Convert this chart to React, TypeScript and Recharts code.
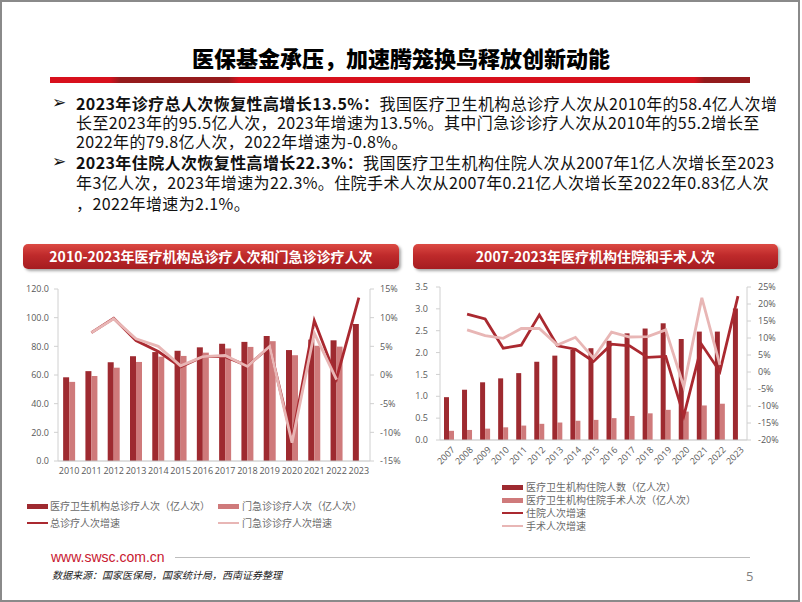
import React from 'react';
import { ComposedChart, Bar, Line, XAxis, YAxis } from 'recharts';

// ---------- Left chart data ----------
const years1 = ['2010', '2011', '2012', '2013', '2014', '2015', '2016', '2017', '2018', '2019', '2020', '2021', '2022', '2023'];
const totalVisits = [58.4, 62.7, 68.9, 73.1, 76.0, 76.9, 79.3, 81.8, 83.1, 87.2, 77.4, 84.7, 84.2, 95.5];
const outpatientVisits = [55.2, 59.3, 65.1, 69.1, 72.8, 73.3, 75.6, 78.5, 79.6, 83.6, 73.8, 80.4, 79.8, null];
const totalGrowth = [null, 7.4, 9.9, 6.0, 4.1, 1.4, 3.2, 3.2, 1.6, 4.9, -11.2, 9.5, -0.6, 13.5];
const outpatientGrowth = [null, 7.4, 9.8, 6.3, 5.0, 1.6, 3.2, 3.4, 1.5, 5.0, -11.8, 7.3, -0.8, null];
const leftTicks1 = [0, 20, 40, 60, 80, 100, 120];
const rightTicks1 = [-15, -10, -5, 0, 5, 10, 15];

// ---------- Right chart data ----------
const years2 = ['2007', '2008', '2009', '2010', '2011', '2012', '2013', '2014', '2015', '2016', '2017', '2018', '2019', '2020', '2021', '2022', '2023'];
const inpatients = [0.98, 1.15, 1.32, 1.41, 1.53, 1.79, 1.93, 2.06, 2.10, 2.27, 2.44, 2.55, 2.67, 2.31, 2.48, 2.48, 3.01];
const surgeries = [0.21, 0.23, 0.26, 0.29, 0.33, 0.37, 0.40, 0.44, 0.46, 0.50, 0.55, 0.61, 0.69, 0.65, 0.79, 0.83, null];
const inpatientGrowth = [null, 17.0, 15.6, 7.0, 7.9, 16.8, 7.7, 6.7, 3.1, 8.2, 7.7, 4.3, 4.6, -12.9, 8.0, 0.1, 22.3];
const surgeryGrowth = [null, 12.4, 10.7, 9.9, 12.8, 12.8, 7.9, 10.2, 4.1, 11.7, 10.3, 10.4, 12.4, -4.3, 21.8, 2.1, null];
const leftTicks2 = [0, 0.5, 1, 1.5, 2, 2.5, 3, 3.5];
const rightTicks2 = [-20, -15, -10, -5, 0, 5, 10, 15, 20, 25];

const data1 = years1.map((y, i) => ({
  year: y,
  total: totalVisits[i],
  outpatient: outpatientVisits[i],
  totalG: totalGrowth[i],
  outG: outpatientGrowth[i],
}));

const data2 = years2.map((y, i) => ({
  year: y,
  inp: inpatients[i],
  surg: surgeries[i],
  inpG: inpatientGrowth[i],
  surgG: surgeryGrowth[i],
}));

const DARK = '#9e2a30';
const LIGHT_BAR = '#cf7a7b';
const DARK_LINE = '#aa2930';
const LIGHT_LINE = '#e8b6b5';
const AXIS = '#d0d0d0';
const TICK = { fontSize: 9, fill: '#595959', fontFamily: '"Open Sans", "Noto Sans", sans-serif' };
const CJK = '"Noto Sans CJK SC", "Noto Sans", sans-serif';

const RotTick = (props: any) => {
  const { x, y, payload } = props;
  return (
    <g transform={`translate(${x + 4},${y + 6})`}>
      <text textAnchor="end" dominantBaseline="central" transform="rotate(-45)" fontSize={9} fill="#595959" fontFamily='"Open Sans", "Noto Sans", sans-serif'>
        {payload.value}
      </text>
    </g>
  );
};

const abs = (l: number, t: number, extra: React.CSSProperties = {}): React.CSSProperties => ({
  position: 'absolute',
  left: l,
  top: t,
  whiteSpace: 'nowrap',
  ...extra,
});

const Header = ({ left, width, text }: { left: number; width: number; text: string }) => (
  <div
    style={abs(left, 244, {
      width,
      height: 25,
      borderRadius: 5,
      background: 'linear-gradient(to bottom, #dc4a43 0%, #bf2a2b 45%, #a51c20 100%)',
      boxShadow: '2px 2px 3px rgba(0,0,0,0.35)',
      color: '#fff',
      fontWeight: 700,
      fontSize: 14,
      lineHeight: '25px',
      textAlign: 'center',
      fontFamily: CJK,
    })}
  >
    {text}
  </div>
);

const Swatch = ({ left, top, color, h }: { left: number; top: number; color: string; h: number }) => (
  <div style={abs(left, top - h / 2, { width: 21, height: h, background: color })} />
);

const LegText = ({ left, top, text }: { left: number; top: number; text: string }) => (
  <div style={abs(left, top - 6, { fontSize: 10, lineHeight: '12px', color: '#6a6a6a', fontFamily: CJK })}>{text}</div>
);

const bodyLine: React.CSSProperties = { fontSize: 16, lineHeight: '18px', color: '#111', fontFamily: CJK, letterSpacing: '0.4px' };

export default function App() {
  return (
    <div style={{ position: 'absolute', left: 0, top: 0, width: 802, height: 602, background: '#fff', overflow: 'hidden' }}>
      <div style={abs(0, 0, { width: 800, height: 602, border: '2px solid #8a8a8a', boxSizing: 'border-box' })} />

      {/* Title */}
      <div style={abs(0, 43, { width: 802, textAlign: 'center', fontSize: 22, lineHeight: '28px', fontWeight: 900, color: '#000', fontFamily: CJK })}>
        医保基金承压，加速腾笼换鸟释放创新动能
      </div>
      <div
        style={abs(50, 77, {
          width: 700,
          height: 6,
          background:
            'linear-gradient(to right, #d8101c 0%, #d8101c 8.5%, #951b1d 10%, #951b1d 25.5%, #d8101c 27%, #d8101c 92%, #931b1c 93.5%, #931b1c 100%)',
        })}
      />

      {/* Bullets */}
      <div style={abs(52, 93, { fontSize: 17, lineHeight: '18px', color: '#111', fontFamily: '"DejaVu Sans", sans-serif' })}>➢</div>
      <div style={abs(76, 94, bodyLine)}>
        <b>2023年诊疗总人次恢复性高增长13.5%：</b>我国医疗卫生机构总诊疗人次从2010年的58.4亿人次增
      </div>
      <div style={abs(76, 113, bodyLine)}>长至2023年的95.5亿人次，2023年增速为13.5%。其中门急诊诊疗人次从2010年的55.2增长至</div>
      <div style={abs(76, 132, bodyLine)}>2022年的79.8亿人次，2022年增速为-0.8%。</div>
      <div style={abs(52, 152, { fontSize: 17, lineHeight: '18px', color: '#111', fontFamily: '"DejaVu Sans", sans-serif' })}>➢</div>
      <div style={abs(76, 153, bodyLine)}>
        <b>2023年住院人次恢复性高增长22.3%：</b>我国医疗卫生机构住院人次从2007年1亿人次增长至2023
      </div>
      <div style={abs(76, 173, bodyLine)}>年3亿人次，2023年增速为22.3%。住院手术人次从2007年0.21亿人次增长至2022年0.83亿人次</div>
      <div style={abs(76, 194, bodyLine)}>，2022年增速为2.1%。</div>

      {/* Headers */}
      <Header left={23} width={376} text="2010-2023年医疗机构总诊疗人次和门急诊诊疗人次" />
      <Header left={413} width={365} text="2007-2023年医疗机构住院和手术人次" />

      {/* Left chart */}
      <div style={abs(20, 280)}>
        <ComposedChart
          width={386}
          height={200}
          data={data1}
          margin={{ top: 9, right: 2, bottom: 3, left: 4 }}
          barCategoryGap="23%"
          barGap={0}
        >
          <XAxis dataKey="year" tick={TICK} tickLine={false} axisLine={{ stroke: '#bfbfbf' }} tickSize={4} tickMargin={3} height={16} interval={0} />
          <YAxis
            yAxisId="left"
            domain={[0, 120]}
            ticks={leftTicks1}
            tickFormatter={(v: number) => v.toFixed(1)}
            tick={TICK}
            axisLine={{ stroke: AXIS }}
            tickLine={{ stroke: AXIS }}
            tickSize={4}
            tickMargin={5}
            width={34}
          />
          <YAxis
            yAxisId="right"
            orientation="right"
            domain={[-15, 15]}
            ticks={rightTicks1}
            tickFormatter={(v: number) => `${v}%`}
            tick={TICK}
            axisLine={{ stroke: AXIS }}
            tickLine={{ stroke: AXIS }}
            tickSize={4}
            tickMargin={6}
            width={34}
          />
          <Bar yAxisId="left" dataKey="total" fill={DARK} isAnimationActive={false} />
          <Bar yAxisId="left" dataKey="outpatient" fill={LIGHT_BAR} isAnimationActive={false} />
          <Line yAxisId="right" dataKey="totalG" stroke={DARK_LINE} strokeWidth={2.8} dot={false} isAnimationActive={false} type="linear" />
          <Line yAxisId="right" dataKey="outG" stroke={LIGHT_LINE} strokeWidth={2.8} dot={false} isAnimationActive={false} type="linear" />
        </ComposedChart>
      </div>

      {/* Right chart */}
      <div style={abs(400, 278)}>
        <ComposedChart
          width={390}
          height={200}
          data={data2}
          margin={{ top: 9, right: 5, bottom: 4, left: 6 }}
          barCategoryGap="22%"
          barGap={0}
        >
          <XAxis dataKey="year" tick={<RotTick />} tickLine={false} axisLine={{ stroke: '#bfbfbf' }} tickSize={0} tickMargin={2} height={34} interval={0} />
          <YAxis
            yAxisId="left"
            domain={[0, 3.5]}
            ticks={leftTicks2}
            tickFormatter={(v: number) => v.toFixed(1)}
            tick={TICK}
            axisLine={{ stroke: AXIS }}
            tickLine={{ stroke: AXIS }}
            tickSize={4}
            tickMargin={8}
            width={34}
          />
          <YAxis
            yAxisId="right"
            orientation="right"
            domain={[-20, 25]}
            ticks={rightTicks2}
            tickFormatter={(v: number) => `${v}%`}
            tick={TICK}
            axisLine={{ stroke: AXIS }}
            tickLine={{ stroke: AXIS }}
            tickSize={4}
            tickMargin={7}
            width={38}
          />
          <Bar yAxisId="left" dataKey="inp" fill={DARK} isAnimationActive={false} />
          <Bar yAxisId="left" dataKey="surg" fill={LIGHT_BAR} isAnimationActive={false} />
          <Line yAxisId="right" dataKey="inpG" stroke={DARK_LINE} strokeWidth={2.8} dot={false} isAnimationActive={false} type="linear" />
          <Line yAxisId="right" dataKey="surgG" stroke={LIGHT_LINE} strokeWidth={2.8} dot={false} isAnimationActive={false} type="linear" />
        </ComposedChart>
      </div>

      {/* Left legend */}
      <Swatch left={27} top={506} color={DARK} h={5} />
      <LegText left={50} top={506} text="医疗卫生机构总诊疗人次（亿人次）" />
      <Swatch left={218} top={506} color={LIGHT_BAR} h={5} />
      <LegText left={242} top={506} text="门急诊诊疗人次（亿人次）" />
      <Swatch left={27} top={523} color={DARK_LINE} h={2.5} />
      <LegText left={50} top={523} text="总诊疗人次增速" />
      <Swatch left={218} top={523} color={LIGHT_LINE} h={2.5} />
      <LegText left={242} top={523} text="门急诊诊疗人次增速" />

      {/* Right legend */}
      <Swatch left={502} top={487} color={DARK} h={5} />
      <LegText left={526} top={487} text="医疗卫生机构住院人数（亿人次）" />
      <Swatch left={502} top={500} color={LIGHT_BAR} h={5} />
      <LegText left={526} top={500} text="医疗卫生机构住院手术人次（亿人次）" />
      <Swatch left={502} top={513} color={DARK_LINE} h={2.5} />
      <LegText left={526} top={513} text="住院人次增速" />
      <Swatch left={502} top={526} color={LIGHT_LINE} h={2.5} />
      <LegText left={526} top={526} text="手术人次增速" />

      {/* Footer */}
      <div style={abs(51, 548, { fontSize: 14, lineHeight: '18px', color: '#c8172f', fontFamily: '"Liberation Sans", Arial, sans-serif' })}>
        www.swsc.com.cn
      </div>
      <div style={abs(175, 557, { width: 575, height: 1, background: '#bdbdbd' })} />
      <div style={abs(52, 568, { fontSize: 10, lineHeight: '14px', color: '#222', fontStyle: 'italic', fontFamily: CJK })}>
        数据来源：国家医保局，国家统计局，西南证券整理
      </div>
      <div style={abs(746, 567, { fontSize: 13, lineHeight: '18px', color: '#7f7f7f', fontFamily: '"Open Sans", sans-serif' })}>5</div>
    </div>
  );
}
